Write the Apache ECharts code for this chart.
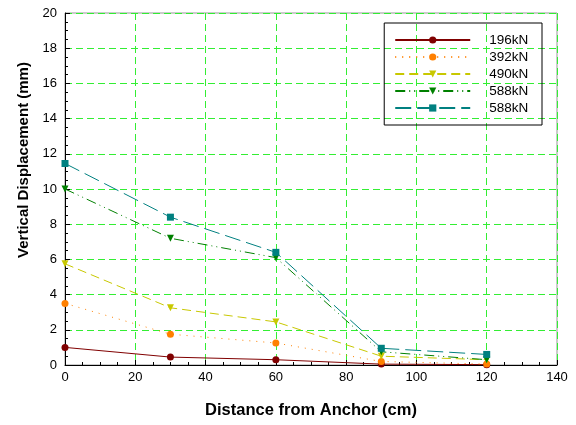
<!DOCTYPE html>
<html>
<head>
<meta charset="utf-8">
<script src="https://cdn.jsdelivr.net/npm/echarts@6/dist/echarts.min.js"></script>
<style>html,body{margin:0;padding:0;background:#fff}#container{width:576px;height:425px}</style>
</head>
<body>
<div id="container"></div>
<script>
var dom = document.getElementById("container");
var myChart = echarts.init(dom);

// distance from anchor (cm)
var distance = [0, 30, 60, 90, 120];
var names = ['196kN', '392kN', '490kN', '588kN', '588kN '];
var d196 = [1.0, 0.45, 0.3, 0.05, 0.02];
var d392 = [3.5, 1.75, 1.25, 0.2, 0.05];
var d490 = [5.75, 3.25, 2.45, 0.5, 0.3];
var d588a = [10.0, 7.2, 6.1, 0.75, 0.3];
var d588b = [11.45, 8.4, 6.4, 0.95, 0.6];

var pairs = function (ys) {
    var res = [];
    for (var i = 0; i < ys.length; i++) {
        res.push([distance[i], ys[i]]);
    }
    return res;
};

var mk = function (name, ys, color, symbol, size, dash) {
    return {
        name: name,
        type: 'line',
        data: pairs(ys),
        symbol: symbol,
        symbolSize: size,
        showAllSymbol: true,
        itemStyle: {color: color},
        lineStyle: {color: color, width: 1, type: dash},
        animation: false
    };
};

option = {
    animation: false,
    grid: {left: 65, right: 19, top: 13, bottom: 60, show: true, borderColor: '#999', borderWidth: 1},
    legend: {
        right: 34,
        top: 23,
        orient: 'vertical',
        itemWidth: 75,
        itemHeight: 9,
        itemGap: 3,
        padding: [10, 10, 10, 10],
        borderColor: '#000',
        borderWidth: 1,
        textStyle: {fontFamily: 'Liberation Sans', fontSize: 13.5, color: '#000', padding: [0, 0, 0, 14]},
        data: names
    },
    xAxis: {
        type: 'value',
        min: 0, max: 140, interval: 20,
        name: 'Distance from Anchor (cm)',
        nameLocation: 'middle',
        nameGap: 37,
        nameTextStyle: {fontFamily: 'Liberation Sans', fontSize: 16.5, fontWeight: 'bold', color: '#000'},
        axisLine: {onZero: false, lineStyle: {color: '#000'}},
        axisTick: {inside: true, length: 5, lineStyle: {color: '#000'}},
        minorTick: {show: true, splitNumber: 4, length: 3, lineStyle: {color: '#000'}},
        axisLabel: {fontFamily: 'Liberation Sans', fontSize: 13, color: '#000', margin: 6},
        splitLine: {show: true, lineStyle: {color: '#33ee33', type: [7, 4], width: 1}}
    },
    yAxis: {
        type: 'value',
        min: 0, max: 20, interval: 2,
        name: 'Vertical Displacement (mm)',
        nameLocation: 'middle',
        nameGap: 33,
        nameTextStyle: {fontFamily: 'Liberation Sans', fontSize: 15, fontWeight: 'bold', color: '#000', padding: [0, 0, 0, 58]},
        axisLine: {show: true, onZero: false, lineStyle: {color: '#000'}},
        axisTick: {show: true, inside: true, length: 5, lineStyle: {color: '#000'}},
        minorTick: {show: true, splitNumber: 4, length: 3, lineStyle: {color: '#000'}},
        axisLabel: {fontFamily: 'Liberation Sans', fontSize: 13, color: '#000', margin: 8},
        splitLine: {show: true, lineStyle: {color: '#33ee33', type: [7, 4], width: 1}}
    },
    series: [
        mk(names[0], d196, '#800000', 'circle', 7, 'solid'),
        mk(names[1], d392, '#ff8000', 'circle', 7, [1, 6]),
        mk(names[2], d490, '#c8c800', 'triangle', 7, [9, 5]),
        mk(names[3], d588a, '#008000', 'triangle', 7, [10, 4, 1, 4, 1, 4]),
        mk(names[4], d588b, '#008080', 'rect', 7, [16, 6])
    ]
};
// downward triangles
option.series[2].symbolRotate = 180;
option.series[3].symbolRotate = 180;

if (option && typeof option === "object") {
    myChart.setOption(option, true);
}
</script>
</body>
</html>
